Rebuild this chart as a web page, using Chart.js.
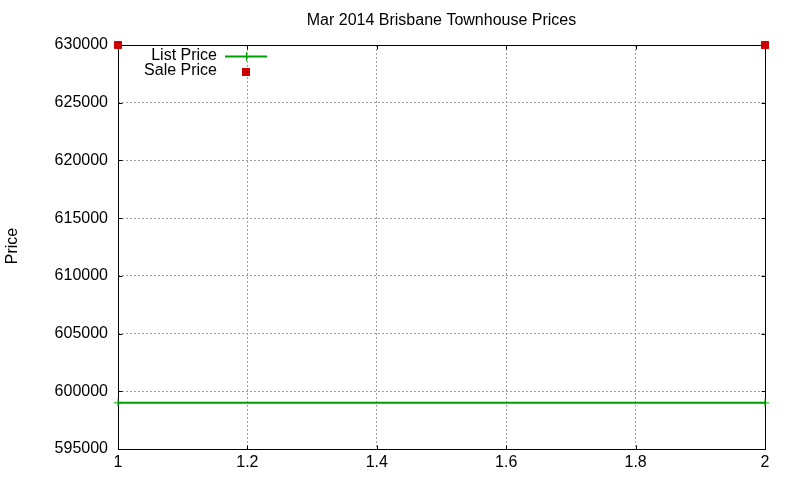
<!DOCTYPE html>
<html>
<head>
<meta charset="utf-8">
<script src="https://cdn.jsdelivr.net/npm/chart.js@4.4.1/dist/chart.umd.min.js"></script>
<style>
  html, body { margin: 0; padding: 0; background: #fff; }
</style>
</head>
<body>
<canvas id="c" width="800" height="480"></canvas>
<script>
const chartTitle = 'Mar 2014 Brisbane Townhouse Prices';
const yAxisTitle = 'Price';
const seriesNames = ['List Price', 'Sale Price'];
const xValues = [1, 2];
const listPrice = [599000, 599000];
const salePrice = [630000, 630000];
const xTicks = [1, 1.2, 1.4, 1.6, 1.8, 2];
const xTickLabels = ['1', '1.2', '1.4', '1.6', '1.8', '2'];
const yTicks = [595000, 600000, 605000, 610000, 615000, 620000, 625000, 630000];
const yTickLabels = ['595000', '600000', '605000', '610000', '615000', '620000', '625000', '630000'];

const GREEN = '#00a000';
const RED = '#cc0000';
const FONT = '"Liberation Sans", Arial, sans-serif';

// box, inward tics, title, y label and the key, gnuplot style
const gnuplotBits = {
  id: 'gnuplotBits',
  beforeDatasetsDraw(chart) {
    const { ctx, chartArea: a, scales } = chart;
    ctx.save();
    ctx.strokeStyle = '#000';
    ctx.lineWidth = 1;
    const L = Math.round(a.left) + 0.5, R = Math.round(a.right) + 0.5;
    const T = Math.round(a.top) + 0.5, B = Math.round(a.bottom) + 0.5;
    ctx.strokeRect(L, T, R - L, B - T);
    ctx.beginPath();
    scales.x.ticks.forEach(t => {
      const px = Math.round(scales.x.getPixelForValue(t.value)) + 0.5;
      ctx.moveTo(px, B); ctx.lineTo(px, B - 4);
      ctx.moveTo(px, T); ctx.lineTo(px, T + 4);
    });
    scales.y.ticks.forEach(t => {
      const py = Math.round(scales.y.getPixelForValue(t.value)) + 0.5;
      ctx.moveTo(L, py); ctx.lineTo(L + 4, py);
      ctx.moveTo(R, py); ctx.lineTo(R - 4, py);
    });
    ctx.stroke();
    ctx.restore();
  },
  afterDraw(chart) {
    const { ctx, chartArea: a } = chart;
    ctx.save();
    ctx.fillStyle = '#000';
    ctx.font = '16px ' + FONT;
    ctx.textBaseline = 'middle';

    // title
    ctx.textAlign = 'center';
    ctx.fillText(chartTitle, (a.left + a.right) / 2, 21);

    // y axis label
    ctx.save();
    ctx.translate(13, 246);
    ctx.rotate(-Math.PI / 2);
    ctx.fillText(yAxisTitle, 0, 0);
    ctx.restore();

    // key
    ctx.textAlign = 'right';
    const ds = chart.data.datasets;
    ctx.fillText(ds[0].label, 217, 56);
    ctx.fillText(ds[1].label, 217, 71);
    ctx.strokeStyle = GREEN;
    ctx.lineWidth = 2;
    ctx.beginPath();
    ctx.moveTo(225, 56.5); ctx.lineTo(267, 56.5);
    ctx.stroke();
    ctx.lineWidth = 1;
    ctx.beginPath();
    ctx.moveTo(246.5, 52); ctx.lineTo(246.5, 61);
    ctx.stroke();
    ctx.fillStyle = RED;
    ctx.fillRect(242, 68, 8, 8);
    ctx.restore();
  }
};

new Chart(document.getElementById('c'), {
  type: 'line',
  data: {
    datasets: [
      {
        label: seriesNames[0],
        data: xValues.map((x, i) => ({ x: x, y: listPrice[i] })),
        borderColor: GREEN,
        backgroundColor: GREEN,
        borderWidth: 2,
        pointStyle: 'cross',
        pointRadius: 4,
        pointBorderWidth: 1,
        clip: false
      },
      {
        label: seriesNames[1],
        data: xValues.map((x, i) => ({ x: x, y: salePrice[i] })),
        showLine: false,
        borderColor: RED,
        backgroundColor: RED,
        pointStyle: 'rect',
        pointRadius: 5,
        pointBorderWidth: 1,
        clip: false
      }
    ]
  },
  options: {
    responsive: false,
    animation: false,
    devicePixelRatio: 1,
    layout: { padding: { top: 45, right: 35, left: 0, bottom: 0 } },
    plugins: {
      legend: { display: false },
      title: { display: false },
      tooltip: { enabled: false }
    },
    scales: {
      x: {
        type: 'linear',
        min: 1,
        max: 2,
        afterBuildTicks: s => { s.ticks = xTicks.map(v => ({ value: v })); },
        afterFit: s => { s.height = 31; },
        ticks: {
          color: '#000',
          font: { family: FONT, size: 16 },
          padding: 4,
          maxRotation: 0,
          callback: v => xTickLabels[xTicks.indexOf(v)]
        },
        grid: { color: '#a0a0a0', drawTicks: false, lineWidth: 1 },
        border: { display: false, dash: [2, 2] }
      },
      y: {
        type: 'linear',
        min: 595000,
        max: 630000,
        afterBuildTicks: s => { s.ticks = yTicks.map(v => ({ value: v })); },
        afterFit: s => { s.width = 118; },
        ticks: {
          color: '#000',
          font: { family: FONT, size: 16 },
          padding: 10,
          callback: v => yTickLabels[yTicks.indexOf(v)]
        },
        grid: { color: '#a0a0a0', drawTicks: false, lineWidth: 1 },
        border: { display: false, dash: [2, 2] }
      }
    }
  },
  plugins: [gnuplotBits]
});
</script>
</body>
</html>
